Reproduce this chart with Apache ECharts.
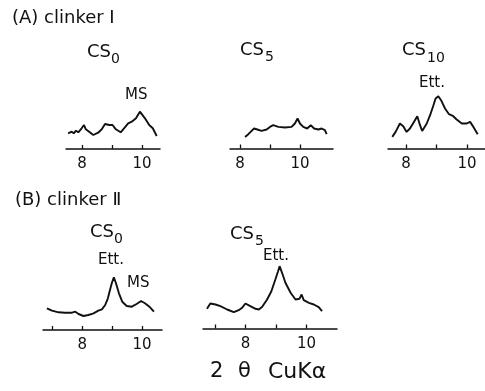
<!DOCTYPE html>
<html>
<head>
<meta charset="utf-8">
<script src="https://cdn.jsdelivr.net/npm/echarts@6/dist/echarts.min.js"></script>
<style>html,body{margin:0;padding:0;background:#fff;}#c{width:485px;height:391px;}</style>
</head>
<body>
<div id="c"></div>
<script>
// 2θ (deg, CuKα) and relative intensity (arbitrary units) for each pattern
const a1X = [7.54,7.66,7.73,7.80,7.88,7.99,8.07,8.13,8.24,8.38,8.54,8.66,8.77,8.91,9.02,9.13,9.29,9.43,9.54,9.66,9.80,9.93,10.10,10.24,10.36,10.49];
const a1Y = [15.7,17.3,15.7,18.3,16.7,20.7,24,19.7,17.3,14,16.3,19.7,25,24,24,19.7,16.7,21.7,25.7,27.3,30.7,37.3,30.7,24,20.7,13];

const a2X = [8.17,8.28,8.39,8.47,8.58,8.72,8.89,9.00,9.11,9.28,9.50,9.72,9.83,9.92,10.00,10.11,10.24,10.36,10.47,10.61,10.72,10.83,10.89];
const a2Y = [11.6,14.3,17.6,20,19,17.6,19,21.6,23.3,21.6,21,21.6,25,30,25,21.6,20,23.3,20,19,20,18.3,14.3];

const a3X = [7.55,7.66,7.80,7.91,8.02,8.13,8.24,8.37,8.46,8.53,8.68,8.79,8.90,8.97,9.06,9.15,9.28,9.41,9.55,9.66,9.83,9.99,10.10,10.21,10.35];
const a3Y = [11.6,16.6,25,22.3,16.6,20,25.6,32.3,23.3,17.6,25,33.3,43.3,50,52.3,48.3,40,34.3,32.3,29,25,25,26.6,21.6,14.3];

const b1X = [6.82,6.99,7.21,7.43,7.66,7.77,7.88,8.04,8.21,8.38,8.54,8.66,8.77,8.86,8.93,8.99,9.06,9.13,9.23,9.34,9.49,9.66,9.82,9.97,10.10,10.27,10.40];
const b1Y = [21.7,19.3,17.7,17.3,17.3,18.3,16,14,15,16.7,19.3,20.7,25,31.7,40,46.7,52.7,46.7,36.7,28.3,24,23.3,26,29,26.7,22.7,18.3];

const b2X = [6.74,6.85,7.02,7.18,7.40,7.62,7.78,7.89,8.00,8.16,8.33,8.44,8.55,8.71,8.85,8.98,9.07,9.12,9.20,9.31,9.48,9.64,9.77,9.84,9.91,10.08,10.24,10.40,10.51];
const b2Y = [19.7,25,24,22.3,19,16.3,18.3,20.7,25,22.3,19.7,19,21.7,29,37.3,49,57.3,62.3,55.7,45.7,35.7,29,29.7,34,28.3,25.7,24,21.3,17.3];

const tickLabels = [8, 10];
const a1Ticks = [8, 9, 10];
const a2Ticks = [8, 9, 10];
const a3Ticks = [8, 9, 10];
const b1Ticks = [7, 8, 9, 10];
const b2Ticks = [7, 8, 9, 10];

const INK = '#111';
const FONT = 'DejaVu Sans';

const panels = [
  {x: a1X, y: a1Y, ticks: a1Ticks, min: 7.47, max: 10.6, left: 66, width: 94, axisY: 149, h: 60},
  {x: a2X, y: a2Y, ticks: a2Ticks, min: 7.67, max: 11.1, left: 230, width: 103, axisY: 148.5, h: 60},
  {x: a3X, y: a3Y, ticks: a3Ticks, min: 7.41, max: 10.59, left: 388, width: 97, axisY: 148.5, h: 60},
  {x: b1X, y: b1Y, ticks: b1Ticks, min: 6.69, max: 10.67, left: 43, width: 119, axisY: 330, h: 70},
  {x: b2X, y: b2Y, ticks: b2Ticks, min: 6.61, max: 11.0, left: 203, width: 134, axisY: 328.5, h: 70}
];

const grid = [], xAxis = [], yAxis = [], series = [];
panels.forEach((p, i) => {
  grid.push({left: p.left, top: p.axisY - p.h, width: p.width, height: p.h, containLabel: false});
  xAxis.push({
    type: 'value', gridIndex: i, min: p.min, max: p.max,
    axisLine: {show: true, lineStyle: {color: INK, width: 1.5}},
    axisTick: {show: true, inside: true, length: 4, customValues: p.ticks, lineStyle: {color: INK, width: 1.3}},
    axisLabel: {show: true, customValues: tickLabels, color: INK, fontSize: 15, fontFamily: FONT, margin: 8},
    splitLine: {show: false}
  });
  yAxis.push({type: 'value', gridIndex: i, min: 0, max: p.h, show: false, splitLine: {show: false}});
  series.push({
    type: 'line', xAxisIndex: i, yAxisIndex: i,
    data: p.x.map((v, k) => [v, p.y[k]]),
    showSymbol: false, smooth: false,
    lineStyle: {color: INK, width: 1.9}, silent: true
  });
});

function txt(x, y, s, size) {
  return {type: 'text', left: x, top: y - size * 0.6,
    style: {text: s, fill: INK, font: size + 'px "' + FONT + '"'}};
}

const graphic = [
  txt(12, 20, '(A) clinker Ⅰ', 18),
  txt(87, 54, 'CS', 18), txt(111, 61, '0', 14),
  txt(240, 52, 'CS', 18), txt(265, 59, '5', 14),
  txt(402, 52, 'CS', 18), txt(427, 60, '10', 14),
  txt(125, 97, 'MS', 15),
  txt(419, 85, 'Ett.', 15),
  txt(15, 202, '(B) clinker Ⅱ', 18),
  txt(90, 234, 'CS', 18), txt(114, 241, '0', 14),
  txt(98, 262, 'Ett.', 15),
  txt(127, 285, 'MS', 15),
  txt(230, 236, 'CS', 18), txt(255, 243, '5', 14),
  txt(263, 258, 'Ett.', 15),
  txt(210, 374, '2', 21),
  txt(238, 374, 'θ', 21),
  txt(268, 374, 'CuKα', 22)
];

const chart = echarts.init(document.getElementById('c'), null, {renderer: 'canvas'});
chart.setOption({
  backgroundColor: '#fff',
  animation: false,
  grid, xAxis, yAxis, series, graphic
});
</script>
</body>
</html>
